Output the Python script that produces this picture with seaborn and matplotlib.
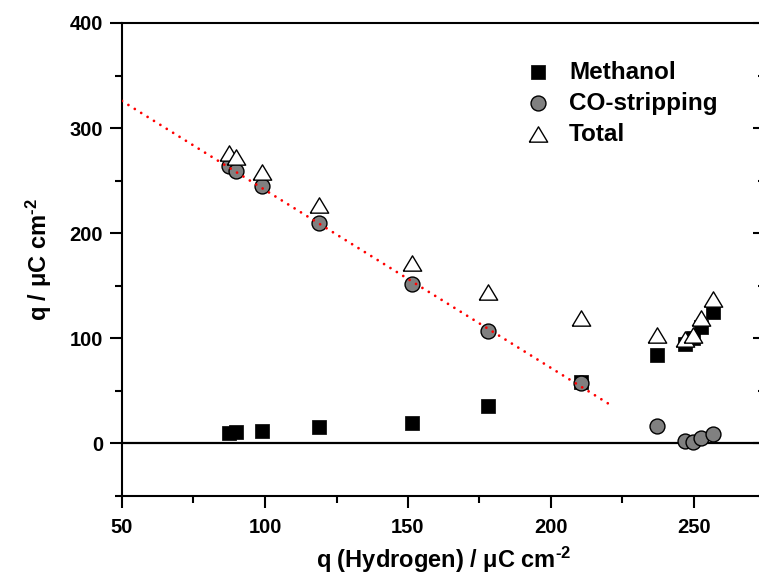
import numpy as np
import pandas as pd
import matplotlib
matplotlib.use("Agg")
import matplotlib.pyplot as plt
from matplotlib.ticker import MultipleLocator
from matplotlib.lines import TICKLEFT
import seaborn as sns

# Charge of hydrogen adsorption region (x) and the corresponding charges
h_charge = [87.3, 89.9, 98.8, 119.0, 151.4, 177.9, 210.5, 237.2, 246.9, 249.6, 252.4, 256.6]
methanol = [10.0, 10.5, 11.8, 15.6, 19.1, 35.6, 58.7, 84.1, 94.6, 100.3, 110.8, 125.0]
co_stripping = [263.9, 259.5, 244.9, 209.4, 151.7, 107.0, 57.2, 16.9, 2.3, 1.0, 4.9, 8.9]
total = [276.0, 272.8, 258.0, 226.5, 172.0, 144.0, 119.3, 103.0, 99.2, 103.1, 119.0, 137.2]

# Linear trend of the CO-stripping charge (end points)
fit_x = [50.0, 221.4]
fit_y = [325.8, 35.6]

x_ticks = [50, 100, 150, 200, 250]
y_ticks = [0, 100, 200, 300, 400]

sns.set_style("ticks")
plt.rcParams["font.family"] = ["Liberation Sans", "DejaVu Sans"]
plt.rcParams["font.weight"] = "bold"
plt.rcParams["text.color"] = "black"
plt.rcParams["axes.labelcolor"] = "black"
plt.rcParams["xtick.color"] = "black"
plt.rcParams["ytick.color"] = "black"
plt.rcParams["mathtext.fontset"] = "custom"
plt.rcParams["mathtext.rm"] = "Liberation Sans:bold"
plt.rcParams["mathtext.bf"] = "Liberation Sans:bold"
plt.rcParams["mathtext.it"] = "Liberation Sans:bold"

df = pd.DataFrame({"h": h_charge, "methanol": methanol,
                   "co": co_stripping, "total": total})
fit_df = pd.DataFrame({"x": fit_x, "y": fit_y})

fig = plt.figure(figsize=(7.59, 5.78), dpi=100)
ax = fig.add_axes([122 / 759, 82 / 578, 643.5 / 759, 473 / 578])

# zero reference line
ax.axhline(0, color="black", lw=1.6, zorder=1)

tri = [(-1.2, -1.0), (1.2, -1.0), (0.0, 1.0), (-1.2, -1.0)]

sns.scatterplot(data=df, x="h", y="methanol", ax=ax, marker="s", s=100,
                color="black", edgecolor="black", linewidth=0.5,
                label="Methanol", zorder=3)
sns.scatterplot(data=df, x="h", y="co", ax=ax, marker="o", s=115,
                color="#808080", edgecolor="black", linewidth=1.0,
                label="CO-stripping", zorder=4)
sns.scatterplot(data=df, x="h", y="total", ax=ax, marker=tri, s=175,
                color="white", edgecolor="black", linewidth=1.0,
                label="Total", zorder=5)
sns.lineplot(data=fit_df, x="x", y="y", ax=ax, color="#ff0000", lw=2.0,
             linestyle=(0, (0.01, 2.7)), dash_capstyle="round",
             zorder=6, legend=False)

ax.set_xlim(50, 275)
ax.set_ylim(-50, 400)
ax.set_xticks(x_ticks)
ax.set_yticks(y_ticks)
ax.xaxis.set_minor_locator(MultipleLocator(25))
ax.yaxis.set_minor_locator(MultipleLocator(50))

for side in ["left", "bottom", "top", "right"]:
    ax.spines[side].set_linewidth(1.5)
    ax.spines[side].set_color("black")

ax.tick_params(axis="both", which="major", length=8.5, width=1.5,
               labelsize=14.5, colors="black", direction="out")
ax.tick_params(axis="both", which="minor", length=5, width=1.5,
               colors="black", direction="out")
ax.tick_params(axis="x", which="major", pad=7)
ax.tick_params(axis="y", which="major", pad=5)
ax.tick_params(axis="y", which="both", right=True, labelright=False)
# right axis ticks point inward
for tick in ax.yaxis.get_major_ticks() + ax.yaxis.get_minor_ticks():
    tick.tick2line.set_marker(TICKLEFT)

for lab in ax.get_xticklabels() + ax.get_yticklabels():
    lab.set_fontweight("bold")
    lab.set_color("black")

ax.set_xlabel("q (Hydrogen) / \u03bcC cm$^{\\text{-2}}$", fontsize=17,
              fontweight="bold", labelpad=6, color="black")
ax.set_ylabel("q / \u03bcC cm$^{\\text{-2}}$", fontsize=17, fontweight="bold",
              labelpad=11, color="black")

leg = ax.legend(loc="upper left", bbox_to_anchor=(0.61, 0.941),
                frameon=False, fontsize=17.5, handletextpad=0.75,
                labelspacing=0.33, borderaxespad=0.0, handlelength=1.1)
for txt in leg.get_texts():
    txt.set_fontweight("bold")
    txt.set_color("black")

fig.savefig("out.png", dpi=100)
